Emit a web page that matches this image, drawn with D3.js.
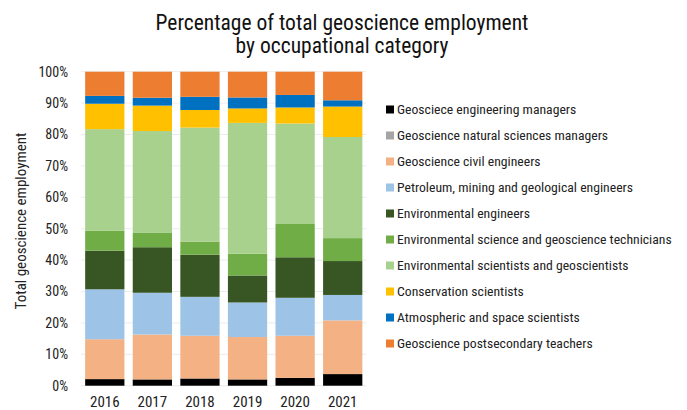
<html>
<head>
<title>Geoscience employment</title>
<script src="https://d3js.org/d3.v7.min.js" charset="utf-8"></script>
<style>
body { margin: 0; background: white; }
text { font-family: "Roboto Condensed", "Liberation Sans Narrow", "Roboto", sans-serif; }
</style>
</head>
<body>
<script>
// years on the x axis
var years = ["2016", "2017", "2018", "2019", "2020", "2021"];

// series names, bottom of stack first
var series = [
  "Geosciece engineering managers",
  "Geoscience natural sciences managers",
  "Geoscience civil engineers",
  "Petroleum, mining and geological engineers",
  "Environmental engineers",
  "Environmental science and geoscience technicians",
  "Environmental scientists and geoscientists",
  "Conservation scientists",
  "Atmospheric and space scientists",
  "Geoscience postsecondary teachers"
];
var colors = ["#000000", "#a5a5a5", "#f4b183", "#9dc3e6", "#375623",
              "#70ad47", "#a9d18e", "#ffc000", "#0070c0", "#ed7d31"];

// percentages per series, one value per year
var engManagers   = [2.1, 2.0, 2.3, 2.0, 2.5, 3.7];
var natManagers   = [0, 0, 0, 0, 0, 0];
var civilEng      = [12.7, 14.3, 13.6, 13.5, 13.4, 17.1];
var petroleumEng  = [15.9, 13.3, 12.4, 11.0, 12.1, 8.1];
var envEng        = [12.3, 14.5, 13.4, 8.6, 12.9, 10.8];
var technicians   = [6.4, 4.7, 4.2, 6.9, 10.6, 7.3];
var envScientists = [32.3, 32.3, 36.3, 41.7, 32.0, 32.2];
var conservation  = [8.1, 8.1, 5.6, 4.6, 5.1, 9.7];
var atmospheric   = [2.5, 2.5, 4.2, 3.5, 4.0, 2.0];
var teachers      = [7.7, 8.3, 8.0, 8.2, 7.4, 9.1];

var yTicks = [0, 10, 20, 30, 40, 50, 60, 70, 80, 90, 100];

var allValues = [engManagers, natManagers, civilEng, petroleumEng, envEng,
                 technicians, envScientists, conservation, atmospheric, teachers];

var rows = years.map(function(y, i) {
  var r = { year: y };
  series.forEach(function(s, k) { r[s] = allValues[k][i]; });
  return r;
});

var width = 687, height = 410;

var svg = d3.select("body").append("svg")
  .attr("width", width).attr("height", height);

var x = d3.scaleBand().domain(years).range([81, 366.5])
  .paddingInner(0.175).paddingOuter(0.0875);
var y = d3.scaleLinear().domain([0, 100]).range([385.7, 71.7]);
var color = d3.scaleOrdinal().domain(series).range(colors);

// gridlines
svg.append("g").selectAll("line")
  .data(yTicks).enter().append("line")
  .attr("x1", 81).attr("x2", 366.5)
  .attr("y1", function(d) { return y(d); })
  .attr("y2", function(d) { return y(d); })
  .attr("stroke", "#ececec").attr("stroke-width", 1);

// y axis labels
var yAxis = svg.append("g")
  .attr("transform", "translate(74,0)")
  .call(d3.axisLeft(y).tickValues(yTicks).tickSize(0).tickPadding(6)
    .tickFormat(function(d) { return d + "%"; }));
yAxis.select(".domain").remove();
yAxis.selectAll("text").attr("font-size", 14).attr("fill", "#222")
  .style("font-family", null);

// stacked bars
var stack = d3.stack().keys(series)(rows);
svg.append("g").selectAll("g")
  .data(stack).enter().append("g")
  .attr("fill", function(d) { return color(d.key); })
  .selectAll("rect")
  .data(function(d) { return d; }).enter().append("rect")
  .attr("x", function(d) { return x(d.data.year); })
  .attr("width", x.bandwidth())
  .attr("y", function(d) { return y(d[1]); })
  .attr("height", function(d) { return y(d[0]) - y(d[1]); });

// x axis labels
var xAxis = svg.append("g")
  .attr("transform", "translate(0,392)")
  .call(d3.axisBottom(x).tickSize(0).tickPadding(4));
xAxis.select(".domain").remove();
xAxis.selectAll("text").attr("font-size", 15).attr("fill", "#222")
  .style("font-family", null);

// y axis title
svg.append("text")
  .attr("transform", "translate(26,221) rotate(-90)")
  .attr("text-anchor", "middle")
  .attr("font-size", 15).attr("fill", "#222")
  .text("Total geoscience employment");

// title
svg.append("text").attr("x", 342).attr("y", 30)
  .attr("text-anchor", "middle").attr("font-size", 21.5).attr("fill", "#111")
  .text("Percentage of total geoscience employment");
svg.append("text").attr("x", 342).attr("y", 53)
  .attr("text-anchor", "middle").attr("font-size", 21.5).attr("fill", "#111")
  .text("by occupational category");

// legend
var legend = svg.append("g").selectAll("g")
  .data(series).enter().append("g")
  .attr("transform", function(d, i) { return "translate(386," + (109.5 + i * 26) + ")"; });
legend.append("rect")
  .attr("x", 0).attr("y", -4).attr("width", 8).attr("height", 8)
  .attr("fill", function(d) { return color(d); });
legend.append("text")
  .attr("x", 11).attr("dy", "0.35em")
  .attr("font-size", 13.7).attr("fill", "#222")
  .text(function(d) { return d; });
</script>
</body>
</html>
